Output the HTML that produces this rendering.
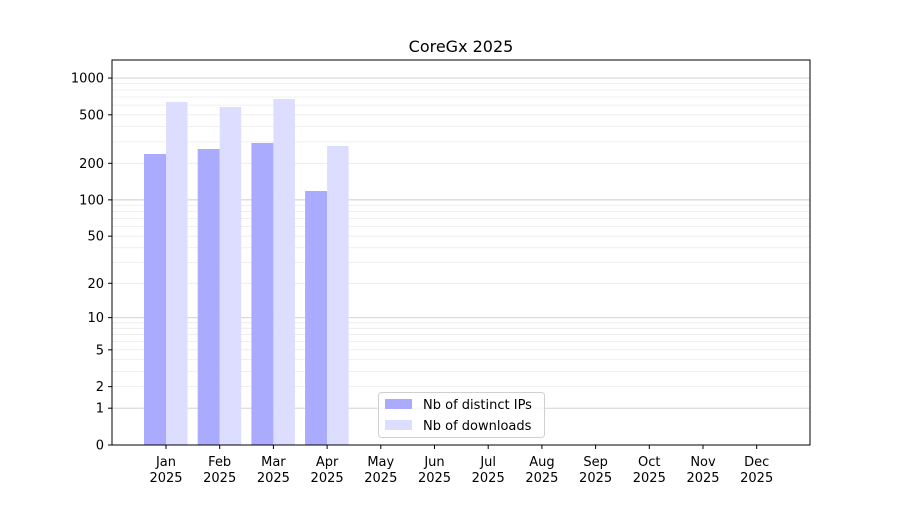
<!DOCTYPE html>
<html><head><meta charset="utf-8"><style>
body{margin:0;background:#fff;}
svg text{font-family:"DejaVu Sans","Liberation Sans",sans-serif;}
</style></head><body>
<svg id="s" width="900" height="500" xmlns="http://www.w3.org/2000/svg"></svg>
<script>
const s=document.getElementById('s');
const Y=v=>445-122.3*Math.log10(v+1);
let h='';
// minor grid
for(const d of [1,10,100]) for(let k=2;k<=9;k++){const y=Y(k*d);h+=`<line x1="112" x2="810" y1="${y}" y2="${y}" stroke="#ebebeb" stroke-width="0.8"/>`;}
for(const v of [1,10,100,1000]){const y=Y(v);h+=`<line x1="112" x2="810" y1="${y}" y2="${y}" stroke="#cccccc" stroke-width="0.9"/>`;}
// bars
const d=[[154,102],[149,107],[143,99],[191,146]];
d.forEach((t,i)=>{const c=166+53.7*i;
h+=`<rect x="${c-22}" y="${t[0]}" width="22" height="${445-t[0]}" fill="#aaaaff"/>`;
h+=`<rect x="${c}" y="${t[1]}" width="21.5" height="${445-t[1]}" fill="#ddddff"/>`;});
h+=`<rect x="112" y="60" width="698" height="385" fill="none" stroke="#000" stroke-width="1"/>`;
for(const v of [0,1,2,5,10,20,50,100,200,500,1000]){const y=Y(v);
h+=`<line x1="108" x2="112" y1="${y}" y2="${y}" stroke="#000"/><text x="104" y="${y+4.5}" font-size="13" text-anchor="end">${v}</text>`;}
const m=['Jan','Feb','Mar','Apr','May','Jun','Jul','Aug','Sep','Oct','Nov','Dec'];
m.forEach((n,i)=>{const x=166+53.7*i;
h+=`<line x1="${x}" x2="${x}" y1="445" y2="449" stroke="#000"/><text x="${x}" y="466" font-size="13" text-anchor="middle">${n}</text><text x="${x}" y="482" font-size="13" text-anchor="middle">2025</text>`;});
h+=`<text x="461" y="52" font-size="16" text-anchor="middle">CoreGx 2025</text>`;
h+=`<rect x="378.5" y="392.5" width="166" height="45" rx="3" fill="#fff" fill-opacity="0.8" stroke="#d0d0d0"/>`;
h+=`<rect x="385" y="399" width="27" height="10" fill="#aaaaff"/><text x="423" y="409" font-size="13">Nb of distinct IPs</text>`;
h+=`<rect x="385" y="420" width="27" height="10" fill="#ddddff"/><text x="423" y="430" font-size="13">Nb of downloads</text>`;
s.innerHTML=h;
</script>
</body></html>
